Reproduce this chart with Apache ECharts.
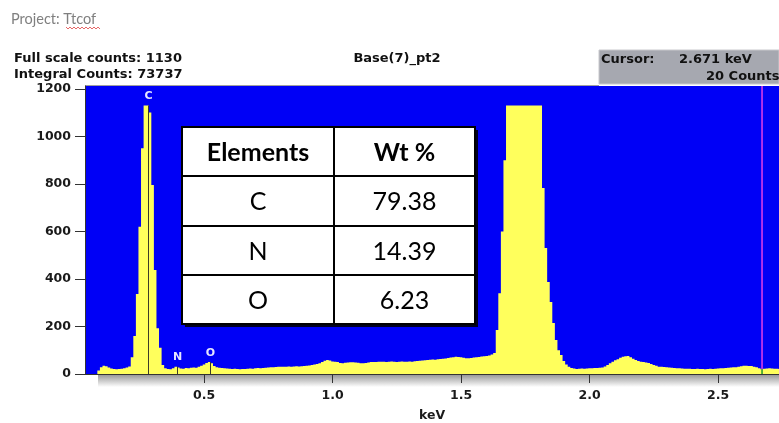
<!DOCTYPE html>
<html>
<head>
<meta charset="utf-8">
<title>Base(7)_pt2</title>
<script src="https://cdn.jsdelivr.net/npm/echarts@6/dist/echarts.min.js"></script>
<style>
html, body { margin: 0; padding: 0; background: #fff; }
#chart { width: 779px; height: 423px; }
</style>
</head>
<body>
<div id="chart"></div>
<script>
// spectrum channels: first channel energy and channel width (keV)
var startKeV = 0.09;
var channelKeV = 0.01;
// counts per channel (0.09 keV ... 2.74 keV)
var counts = [
    15,                                                   // 0.09
    28, 35, 33, 27, 23, 21, 20, 21, 22, 24,               // 0.10
    27, 32, 70, 160, 337, 620, 950, 1130, 1130, 1100,     // 0.20
    795, 438, 193, 110, 38, 24, 21, 20, 24, 31,           // 0.30
    27, 23, 22, 25, 24, 26, 27, 26, 30, 35,               // 0.40
    40, 46, 50, 45, 34, 28, 26, 25, 24, 23,               // 0.50
    22, 21, 22, 21, 20, 21, 21, 22, 23, 22,               // 0.60
    24, 25, 24, 25, 26, 27, 28, 28, 29, 30,               // 0.70
    31, 30, 31, 32, 31, 32, 33, 32, 33, 34,               // 0.80
    35, 36, 38, 40, 42, 45, 50, 56, 59, 57,               // 0.90
    53, 52, 50, 46, 45, 47, 48, 49, 49, 48,               // 1.00
    47, 45, 45, 46, 48, 50, 50, 51, 52, 52,               // 1.10
    52, 51, 52, 53, 52, 51, 52, 53, 52, 52,               // 1.20
    53, 52, 54, 55, 56, 57, 58, 59, 60, 61,               // 1.30
    60, 62, 63, 64, 65, 67, 69, 71, 73, 72,               // 1.40
    70, 68, 66, 66, 67, 69, 71, 72, 74, 75,               // 1.50
    76, 78, 82, 88, 185, 340, 600, 900, 1130, 1130,       // 1.60
    1130, 1130, 1130, 1130, 1130, 1130, 1130, 1130, 1130, 1130, // 1.70
    1130, 1130, 783, 530, 387, 303, 215, 143, 100, 80,    // 1.80
    55, 40, 30, 25, 23, 21, 22, 23, 22, 23,               // 1.90
    24, 24, 25, 25, 26, 27, 32, 38, 45, 52,               // 2.00
    58, 62, 68, 73, 75, 76, 70, 64, 59, 55,               // 2.10
    52, 50, 48, 46, 42, 38, 35, 31, 30, 29,               // 2.20
    28, 27, 26, 25, 24, 24, 23, 22, 22, 22,               // 2.30
    21, 21, 22, 21, 21, 20, 21, 22, 21, 22,               // 2.40
    23, 24, 24, 25, 26, 27, 28, 28, 30, 33,               // 2.50
    35, 35, 34, 34, 30, 28, 24, 20, 22, 23,               // 2.60
    24, 23, 22, 22, 21                                    // 2.70
];

var xTicks = [0.5, 1.0, 1.5, 2.0, 2.5];
var yTicks = [0, 200, 400, 600, 800, 1000, 1200];

// element marker lines
var peakNames = ['C', 'N', 'O'];
var peakKeV = [0.281, 0.393, 0.525];
var peakCounts = [1130, 31, 50];

var cursorKeV = 2.671;
var cursorCounts = 20;
var yMax = 1212;

var tableHead = ['Elements', 'Wt %'];
var tableElements = ['C', 'N', 'O'];
var tableWt = ['79.38', '14.39', '6.23'];

var spectrum = [];
for (var i = 0; i < counts.length; i++) {
    spectrum.push([+(startKeV + i * channelKeV).toFixed(3), counts[i]]);
}

// whole spectrum as one stepped polygon, plus the element markers and the cursor
var renderSpectrum = function (params, api) {
    if (params.dataIndex !== 0) return null;
    var half = channelKeV / 2;
    var pts = [api.coord([spectrum[0][0] - half, 0])];
    for (var j = 0; j < spectrum.length; j++) {
        pts.push(api.coord([spectrum[j][0] - half, spectrum[j][1]]));
        pts.push(api.coord([spectrum[j][0] + half, spectrum[j][1]]));
    }
    pts.push(api.coord([spectrum[spectrum.length - 1][0] + half, 0]));
    var children = [{type: 'polygon', shape: {points: pts}, style: {fill: '#ffff5c', stroke: null}}];

    for (var p = 0; p < peakNames.length; p++) {
        var bottom = api.coord([peakKeV[p], 0]);
        var top = api.coord([peakKeV[p], peakCounts[p]]);
        var lx = Math.round(bottom[0]) + 0.5;
        children.push({type: 'line', shape: {x1: lx, y1: bottom[1], x2: lx, y2: top[1]},
            style: {stroke: '#3c3c28', lineWidth: 1}});
        children.push({type: 'text', x: lx, y: top[1] - 9,
            style: {text: peakNames[p], font: 'bold 11px "DejaVu Sans"', fill: '#e6e6ff', align: 'center', verticalAlign: 'middle'}});
    }

    var c0 = api.coord([cursorKeV, 0]);
    var c1 = api.coord([cursorKeV, cursorCounts]);
    var c2 = api.coord([cursorKeV, yMax]);
    children.push({type: 'line', shape: {x1: c1[0], y1: c1[1], x2: c2[0], y2: c2[1]}, style: {stroke: '#e33ee6', lineWidth: 1.5}});
    children.push({type: 'line', shape: {x1: c0[0], y1: c0[1], x2: c1[0], y2: c1[1]}, style: {stroke: '#1f9a2a', lineWidth: 1.5}});
    return {type: 'group', children: children};
};

var bold = 'bold 13px "DejaVu Sans"';
var graphics = [
    // project header
    {type: 'text', x: 11, y: 19, style: {text: 'Project: Ttcof', font: '14.5px Lato', fill: '#7f7f7f', verticalAlign: 'middle'}},
    {type: 'polyline', shape: {points: [[66,27],[68,29],[70,27],[72,29],[74,27],[76,29],[78,27],[80,29],[82,27],[84,29],[86,27],[88,29],[90,27],[92,29],[94,27],[96,29],[98,27],[100,29]]},
        style: {stroke: '#e04040', lineWidth: 0.8, fill: null}},
    {type: 'text', x: 14, y: 59, style: {text: 'Full scale counts: 1130', font: bold, fill: '#111', verticalAlign: 'middle'}},
    {type: 'text', x: 14, y: 75, style: {text: 'Integral Counts: 73737', font: bold, fill: '#111', verticalAlign: 'middle'}},
    {type: 'text', x: 397, y: 59, style: {text: 'Base(7)_pt2', font: bold, fill: '#111', align: 'center', verticalAlign: 'middle'}},
    // cursor box
    {type: 'rect', shape: {x: 599, y: 50, width: 180, height: 34}, style: {fill: '#a6a8b0', stroke: '#c8c8cc', lineWidth: 1}},
    {type: 'text', x: 601, y: 60, style: {text: 'Cursor:', font: bold, fill: '#111', verticalAlign: 'middle'}},
    {type: 'text', x: 679, y: 60, style: {text: '2.671 keV', font: bold, fill: '#111', verticalAlign: 'middle'}},
    {type: 'text', x: 706, y: 77, style: {text: '20 Counts', font: bold, fill: '#111', verticalAlign: 'middle'}},
    // thin grey line on top of the plot
    {type: 'line', shape: {x1: 85, y1: 85.5, x2: 599, y2: 85.5}, style: {stroke: '#a0a0a0', lineWidth: 1}},
    // shadow under the x axis
    {type: 'rect', z: -1, shape: {x: 98, y: 375, width: 681, height: 12},
        style: {fill: new echarts.graphic.LinearGradient(0, 0, 0, 1, [
            {offset: 0, color: '#9a9a9a'}, {offset: 1, color: '#ffffff'}])}}
];

// results table
var colX = [182, 334, 475];
var rowY = [127, 176, 226, 275, 324];
graphics.push({type: 'rect', z: 100, shape: {x: 185, y: 130, width: 293, height: 197}, style: {fill: '#000022'}});
graphics.push({type: 'rect', z: 101, shape: {x: 182, y: 127, width: 293, height: 197}, style: {fill: '#fff', stroke: '#000', lineWidth: 2}});
graphics.push({type: 'line', z: 102, shape: {x1: colX[1], y1: rowY[0], x2: colX[1], y2: rowY[4]}, style: {stroke: '#000', lineWidth: 2}});
for (var r = 1; r < 4; r++) {
    graphics.push({type: 'line', z: 102, shape: {x1: colX[0], y1: rowY[r], x2: colX[2], y2: rowY[r]}, style: {stroke: '#000', lineWidth: 2}});
}
for (var c = 0; c < 2; c++) {
    graphics.push({type: 'text', z: 103, x: (colX[c] + colX[c + 1]) / 2, y: (rowY[0] + rowY[1]) / 2 + 1,
        style: {text: tableHead[c], font: 'bold 25px Lato', fill: '#000', align: 'center', verticalAlign: 'middle'}});
}
for (var k = 0; k < tableElements.length; k++) {
    var cy = (rowY[k + 1] + rowY[k + 2]) / 2 + 1;
    graphics.push({type: 'text', z: 103, x: (colX[0] + colX[1]) / 2, y: cy,
        style: {text: tableElements[k], font: '25px Lato', fill: '#000', align: 'center', verticalAlign: 'middle'}});
    graphics.push({type: 'text', z: 103, x: (colX[1] + colX[2]) / 2, y: cy,
        style: {text: tableWt[k], font: '25px Lato', fill: '#000', align: 'center', verticalAlign: 'middle'}});
}

var axisFont = {fontFamily: 'DejaVu Sans', fontWeight: 'bold', fontSize: 12.5, color: '#1a1a1a'};

var option = {
    animation: false,
    backgroundColor: '#ffffff',
    grid: {
        left: 85, right: 0, top: 86, bottom: 49,
        outerBoundsMode: 'none',
        show: true, backgroundColor: '#0000f6', borderWidth: 0
    },
    xAxis: {
        type: 'value',
        min: 0.037, max: 2.737,
        name: 'keV',
        nameLocation: 'middle',
        nameGap: 35,
        nameTextStyle: axisFont,
        axisLine: {show: true, lineStyle: {color: '#333', width: 1}},
        axisTick: {show: true, customValues: xTicks, length: 9, lineStyle: {color: '#333'}},
        axisLabel: Object.assign({customValues: xTicks, margin: 15, formatter: function (v) { return v.toFixed(1); }}, axisFont),
        splitLine: {show: false}
    },
    yAxis: {
        type: 'value',
        min: 0, max: yMax,
        axisLine: {show: true, lineStyle: {color: '#333', width: 1}},
        axisTick: {show: true, customValues: yTicks, length: 10, lineStyle: {color: '#333'}},
        axisLabel: Object.assign({customValues: yTicks, margin: 14, formatter: function (v) { return String(v); }}, axisFont),
        splitLine: {show: false}
    },
    series: [{
        type: 'custom',
        clip: true,
        encode: {x: 0, y: 1},
        data: spectrum,
        renderItem: renderSpectrum
    }],
    graphic: graphics
};

var myChart = echarts.init(document.getElementById('chart'));
myChart.setOption(option);
</script>
</body>
</html>
